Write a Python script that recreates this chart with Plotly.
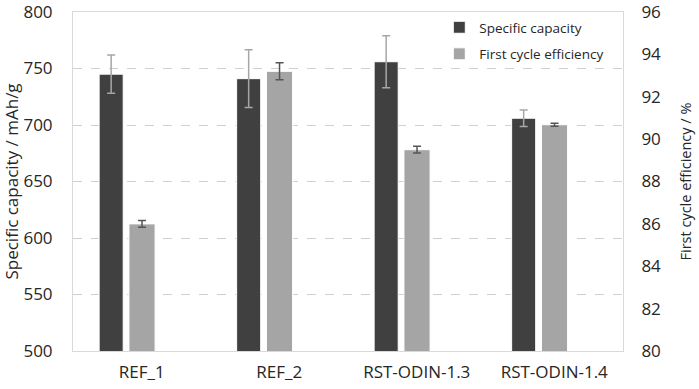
import plotly.graph_objects as go

categories = ["REF_1", "REF_2", "RST-ODIN-1.3", "RST-ODIN-1.4"]
capacity = [745, 741, 756, 706]
capacity_err = [17, 25.5, 23, 7.3]
efficiency = [86.0, 93.2, 89.5, 90.68]
efficiency_err = [0.16, 0.4, 0.16, 0.07]
left_ticks = [500, 550, 600, 650, 700, 750, 800]
right_ticks = [80, 82, 84, 86, 88, 90, 92, 94, 96]

xpos = list(range(len(categories)))
FONT = "Open Sans"
TXT = "#262626"
CLEAR = "rgba(0,0,0,0)"

fig = go.Figure()
fig.add_trace(go.Bar(
    x=xpos, y=capacity, name="Specific capacity", yaxis="y",
    offset=-0.31, width=0.175,
    marker=dict(color="#404040", line=dict(color="#ffffff", width=1)),
    error_y=dict(type="data", array=capacity_err, color="#a6a6a6", thickness=1.5, width=4),
    legendgroup="a",
))
fig.add_trace(go.Bar(
    x=xpos, y=efficiency, name="First cycle efficiency", yaxis="y2",
    offset=-0.093, width=0.19,
    marker=dict(color="#a5a5a5", line=dict(color="#ffffff", width=1)),
    error_y=dict(type="data", array=efficiency_err, color="#555555", thickness=1.5, width=4),
    legendgroup="b",
))

fig.update_layout(
    width=699, height=389,
    margin=dict(l=73, r=76, t=12, b=38, autoexpand=False),
    paper_bgcolor="white", plot_bgcolor="white",
    barmode="overlay",
    font=dict(family=FONT, color=TXT),
    showlegend=True,
    legend=dict(x=0.666, y=1.0, xanchor="left", yanchor="top",
                font=dict(size=13.5, color=TXT), bgcolor=CLEAR,
                traceorder="grouped", tracegroupgap=6, itemwidth=30),
    xaxis=dict(range=[-0.5, 3.5], tickvals=xpos, ticktext=categories,
               showgrid=False, zeroline=False, automargin=False,
               ticks="outside", ticklen=6, tickcolor=CLEAR,
               showline=True, linecolor="#d9d9d9", linewidth=1, mirror=True,
               tickfont=dict(size=17, color=TXT)),
    yaxis=dict(range=[500, 800], tickvals=left_ticks, showgrid=True,
               gridcolor="#d0d0d0", griddash="dash", gridwidth=1,
               zeroline=False, automargin=False, ticklabeloverflow="allow",
               ticks="outside", ticklen=16, tickcolor=CLEAR,
               showline=True, linecolor="#d9d9d9", linewidth=1, mirror=True,
               tickfont=dict(size=17, color=TXT),
               title=dict(text="Specific capacity / mAh/g", font=dict(size=17, color=TXT), standoff=12)),
    yaxis2=dict(range=[80, 96], tickvals=right_ticks, overlaying="y", side="right",
                showgrid=False, zeroline=False, automargin=False, ticklabeloverflow="allow",
                ticks="outside", ticklen=14, tickcolor=CLEAR,
                tickfont=dict(size=17, color=TXT),
                title=dict(text="First cycle efficiency / %", font=dict(size=14.5, color=TXT), standoff=20)),
)

fig.write_html("out.html", config={"displayModeBar": False},
               post_script="document.body.style.margin='0';")
